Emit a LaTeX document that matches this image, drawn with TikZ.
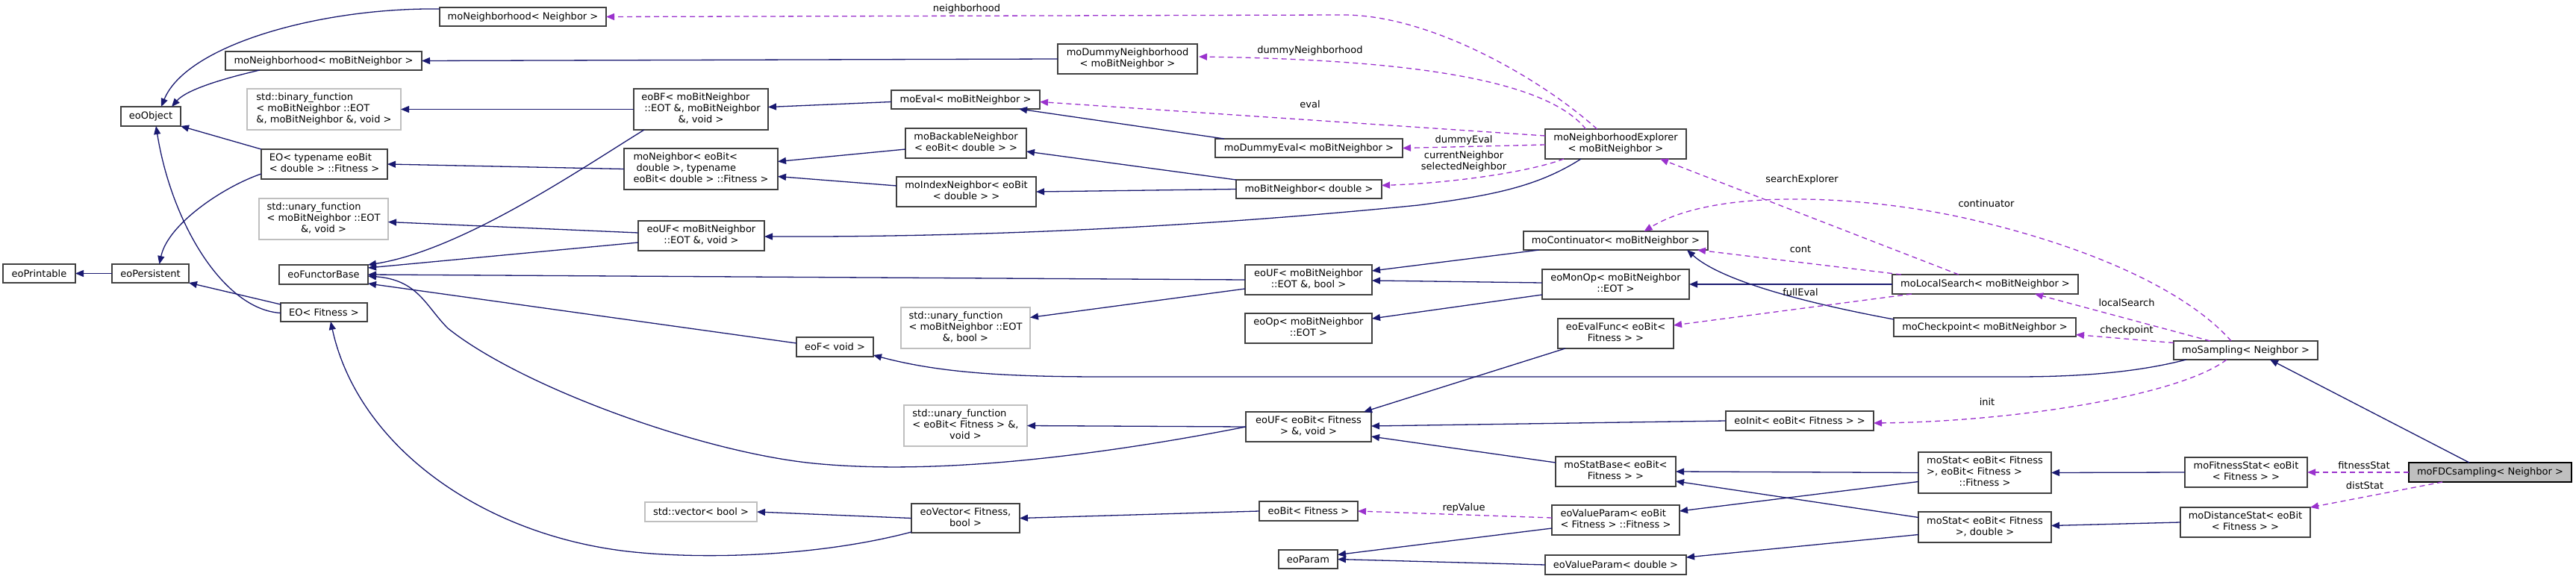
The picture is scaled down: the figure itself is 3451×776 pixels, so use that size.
\documentclass[tikz,border=0pt]{standalone}
\usepackage{fontspec}
\setmainfont{DejaVu Sans}
\usetikzlibrary{arrows.meta,calc}
\definecolor{eblue}{HTML}{191970}
\definecolor{epurp}{HTML}{9A32CD}
\definecolor{bord}{HTML}{404040}
\definecolor{gbord}{HTML}{BFBFBF}
\definecolor{gfill}{HTML}{BFBFBF}
\newcommand{\mlB}[2]{\begin{tabular}{@{}l@{}}#1\\\multicolumn{1}{@{}c@{}}{#2}\end{tabular}}
\newcommand{\mlC}[3]{\begin{tabular}{@{}l@{}}#1\\#2\\\multicolumn{1}{@{}c@{}}{#3}\end{tabular}}
\newcommand{\cbox}[7][]{\node[cls,#1,minimum width={#5-#3},minimum height={#6-#4}] (#2) at ({(#3+#5)/2},{(#4+#6)/2}) {#7};}
\tikzset{
 cls/.style={draw=bord, fill=white, line width=1.2pt, inner sep=0pt, outer sep=0pt, font=\fontsize{13}{15}\selectfont, align=center},
 ext/.style={draw=gbord},
 cur/.style={fill=gfill, draw=black},
 inh/.style={draw=eblue, line width=1.3pt, -{Triangle[length=11pt,width=9pt]}},
 use/.style={draw=epurp, line width=1.3pt, dash pattern=on 7pt off 5pt, -{Triangle[length=11pt,width=9pt]}},
 lbl/.style={font=\fontsize{13}{15}\selectfont, inner sep=0pt, align=center},
}
\begin{document}
\begin{tikzpicture}[x=1pt,y=-1pt]
\useasboundingbox (0,0) rectangle (3451,776);
\fill[white] (0,0) rectangle (3451,776);
% nodes
\cbox{N1}{4}{354}{101}{379}{eoPrintable}
\cbox{N2}{150}{354}{253}{379}{eoPersistent}
\cbox{N3}{162}{143}{242}{169}{eoObject}
\cbox{N4}{589}{10}{812}{35}{moNeighborhood< Neighbor >}
\cbox{N5}{302}{69}{565}{94}{moNeighborhood< moBitNeighbor >}
\cbox[ext]{N6}{331}{119}{537}{174}{\mlC{std::binary\_function}{< moBitNeighbor ::EOT}{\&, moBitNeighbor \&, void >}}
\cbox{N7}{350}{200}{519}{240}{\mlB{EO< typename eoBit}{< double > ::Fitness >}}
\cbox[ext]{N8}{347}{266}{520}{321}{\mlC{std::unary\_function}{< moBitNeighbor ::EOT}{\&, void >}}
\cbox{N9}{374}{355}{493}{381}{eoFunctorBase}
\cbox{N10}{376}{406}{492}{431}{EO< Fitness >}
\cbox{N11}{849}{119}{1029}{174}{\mlC{eoBF< moBitNeighbor}{\hspace{4pt}::EOT \&, moBitNeighbor}{\&, void >}}
\cbox{N12}{836}{199}{1042}{254}{\mlC{moNeighbor< eoBit<}{\hspace{4pt}double >, typename}{eoBit< double > ::Fitness >}}
\cbox{N13}{855}{296}{1024}{336}{\mlB{eoUF< moBitNeighbor}{::EOT \&, void >}}
\cbox{N14}{1067}{452}{1170}{478}{eoF< void >}
\cbox[ext]{N15}{864}{673}{1014}{699}{std::vector< bool >}
\cbox{N16}{1417}{59}{1604}{99}{\mlB{moDummyNeighborhood}{< moBitNeighbor >}}
\cbox{N17}{1194}{121}{1393}{146}{moEval< moBitNeighbor >}
\cbox{N18}{1213}{172}{1375}{212}{\mlB{moBackableNeighbor}{< eoBit< double > >}}
\cbox{N19}{1201}{237}{1388}{277}{\mlB{moIndexNeighbor< eoBit}{< double > >}}
\cbox{N20}{1628}{186}{1879}{211}{moDummyEval< moBitNeighbor >}
\cbox{N21}{1656}{241}{1851}{266}{moBitNeighbor< double >}
\cbox{N22}{1668}{355}{1838}{395}{\mlB{eoUF< moBitNeighbor}{::EOT \&, bool >}}
\cbox[ext]{N23}{1207}{412}{1380}{467}{\mlC{std::unary\_function}{< moBitNeighbor ::EOT}{\&, bool >}}
\cbox{N24}{1668}{420}{1838}{460}{\mlB{eoOp< moBitNeighbor}{::EOT >}}
\cbox[ext]{N25}{1211}{543}{1376}{598}{\mlC{std::unary\_function}{< eoBit< Fitness > \&,}{void >}}
\cbox{N26}{1669}{552}{1837}{592}{\mlB{eoUF< eoBit< Fitness}{> \&, void >}}
\cbox{N27}{1221}{675}{1366}{714}{\mlB{eoVector< Fitness,}{bool >}}
\cbox{N28}{1687}{672}{1819}{698}{eoBit< Fitness >}
\cbox{N29}{1713}{737}{1792}{762}{eoParam}
\cbox{N30}{2070}{173}{2259}{213}{\mlB{moNeighborhoodExplorer}{< moBitNeighbor >}}
\cbox{N31}{2041}{310}{2288}{335}{moContinuator< moBitNeighbor >}
\cbox{N32}{2066}{361}{2263}{401}{\mlB{eoMonOp< moBitNeighbor}{::EOT >}}
\cbox{N33}{2535}{368}{2784}{394}{moLocalSearch< moBitNeighbor >}
\cbox{N34}{2087}{427}{2242}{467}{\mlB{eoEvalFunc< eoBit<}{Fitness > >}}
\cbox{N35}{2537}{426}{2781}{451}{moCheckpoint< moBitNeighbor >}
\cbox{N36}{2312}{551}{2510}{577}{eoInit< eoBit< Fitness > >}
\cbox{N37}{2084}{612}{2245}{652}{\mlB{moStatBase< eoBit<}{Fitness > >}}
\cbox{N38}{2570}{606}{2748}{661}{\mlC{moStat< eoBit< Fitness}{>, eoBit< Fitness >}{::Fitness >}}
\cbox{N39}{2079}{677}{2250}{717}{\mlB{eoValueParam< eoBit}{< Fitness > ::Fitness >}}
\cbox{N40}{2570}{686}{2748}{727}{\mlB{moStat< eoBit< Fitness}{>, double >}}
\cbox{N41}{2070}{744}{2259}{770}{eoValueParam< double >}
\cbox{N42}{2912}{457}{3105}{482}{moSampling< Neighbor >}
\cbox{N43}{2927}{613}{3091}{653}{\mlB{moFitnessStat< eoBit}{< Fitness > >}}
\cbox[cur]{N44}{3227}{620}{3445}{646}{moFDCsampling< Neighbor >}
\cbox{N45}{2921}{680}{3095}{720}{\mlB{moDistanceStat< eoBit}{< Fitness > >}}
% inheritance edges
\draw[inh] (N2.west) -- (N1.east);
\draw[inh] ($(N7.west)+(0,13)$) .. controls (300,250) and (225,300) .. ($(N2.north)+(12,0)$);
\draw[inh] ($(N4.north west)+(0,2)$) .. controls (430,10) and (250,60) .. ($(N3.north)+(14,0)$);
\draw[inh] ($(N5.south west)+(46,0)$) .. controls (300,105) and (250,120) .. ($(N3.north)+(28,0)$);
\draw[inh] (N7.north west) -- (N3.south east);
\draw[inh] ($(N10.west)+(0,1)$) .. controls (300,415) and (230,300) .. ($(N3.south)+(7,0)$);
\draw[inh] ($(N10.north west)+(0,2)$) -- (N2.south east);
\draw[inh] ($(N27.south west)+(0,-1)$) .. controls (1100,745) and (950,750) .. (850,740) .. controls (650,720) and (480,600) .. ($(N10.south)+(9,0)$);
\draw[inh] (N27.west) -- (N15.east);
\draw[inh] (N28.west) -- (N27.east);
\draw[inh] (N11.west) -- (N6.east);
\draw[inh] ($(N11.south west)+(14,0)$) .. controls (780,225) and (620,335) .. (N9.north east);
\draw[inh] (N12.west) -- (N7.east);
\draw[inh] ($(N13.west)+(0,-4)$) -- ($(N8.east)+(0,4)$);
\draw[inh] ($(N13.west)+(0,9)$) -- ($(N9.east)+(0,-9)$);
\draw[inh] (N22.west) -- (N9.east);
\draw[inh] ($(N14.west)+(0,-5)$) -- ($(N9.south east)+(0,-1)$);
\draw[inh] (N26.west) .. controls (1450,615) and (1250,635) .. (1101,622) .. controls (950,610) and (700,520) .. (600,440) .. controls (570,410) and (560,375) .. ($(N9.east)+(0,2)$);
\draw[inh] ($(N30.south west)+(48,0)$) .. controls (2060,250) and (2000,262) .. (1900,275) .. controls (1600,305) and (1300,318) .. ($(N13.east)+(0,1)$);
\draw[inh] ($(N17.west)+(0,3)$) -- ($(N11.east)+(0,-3)$);
\draw[inh] (N16.west) -- (N5.east);
\draw[inh] ($(N18.west)+(0,8)$) -- ($(N12.east)+(0,-10)$);
\draw[inh] ($(N19.west)+(0,-8)$) -- ($(N12.east)+(0,10)$);
\draw[inh] ($(N20.north west)+(12,0)$) -- ($(N17.south east)+(-28,0)$);
\draw[inh] (N21.north west) -- ($(N18.east)+(0,11)$);
\draw[inh] (N21.west) -- (N19.east);
\draw[inh] ($(N22.west)+(0,12)$) -- ($(N23.east)+(0,-14)$);
\draw[inh] ($(N31.south west)+(21,0)$) -- ($(N22.east)+(0,-12)$);
\draw[inh] ($(N32.west)+(0,-2)$) -- ($(N22.east)+(0,1)$);
\draw[inh] ($(N32.west)+(0,14)$) -- ($(N24.east)+(0,-13)$);
\draw[inh] (N33.west) -- (N32.east);
\draw[inh] ($(N35.north west)+(0,2)$) .. controls (2440,410) and (2310,380) .. ($(N31.south east)+(-28,0)$);
\draw[inh] ($(N42.south west)+(17,0)$) .. controls (2870,497) and (2800,505) .. (2700,505) -- (1480,505) .. controls (1350,505) and (1260,500) .. ($(N14.south east)+(0,-2)$);
\draw[inh] ($(N34.south west)+(10,0)$) -- ($(N26.north east)+(-10,0)$);
\draw[inh] (N36.west) -- ($(N26.east)+(0,-1)$);
\draw[inh] ($(N37.west)+(0,-12)$) -- ($(N26.east)+(0,13)$);
\draw[inh] (N26.west) -- (N25.east);
\draw[inh] (N38.west) -- (N37.east);
\draw[inh] ($(N40.west)+(0,-13)$) -- ($(N37.east)+(0,13)$);
\draw[inh] ($(N38.west)+(0,12)$) -- ($(N39.east)+(0,-12)$);
\draw[inh] ($(N40.west)+(0,10)$) -- ($(N41.east)+(0,-10)$);
\draw[inh] ($(N39.west)+(0,11)$) -- ($(N29.east)+(0,-6)$);
\draw[inh] (N41.west) -- (N29.east);
\draw[inh] (N43.west) -- (N38.east);
\draw[inh] (N45.west) -- ($(N40.east)+(0,-2)$);
\draw[inh] ($(N44.north west)+(81,0)$) -- ($(N42.south east)+(-64,0)$);
% usage edges
\draw[use] ($(N39.west)+(0,-3)$) -- (N28.east);
\draw[use] (N44.west) -- (N43.east);
\draw[use] ($(N44.south west)+(45,0)$) -- (N45.north east);
\draw[use] ($(N42.north west)+(49,0)$) -- ($(N33.south east)+(-58,0)$);
\draw[use] ($(N42.west)+(0,-10)$) -- ($(N35.east)+(0,10)$);
\draw[use] ($(N42.north west)+(77,0)$) .. controls (2930,390) and (2800,330) .. (2631,292) .. controls (2500,263) and (2300,250) .. ($(N31.north)+(38,0)$);
\draw[use] ($(N42.south west)+(71,0)$) .. controls (2920,530) and (2700,565) .. ($(N36.east)+(0,3)$);
\draw[use] ($(N33.north west)+(89,0)$) -- ($(N30.south east)+(-35,0)$);
\draw[use] ($(N33.north west)+(12,0)$) -- ($(N31.south east)+(-14,0)$);
\draw[use] ($(N33.south west)+(26,0)$) -- ($(N34.east)+(0,-11)$);
\draw[use] ($(N30.north)+(-25,0)$) .. controls (2070,110) and (1920,20) .. (1800,20) -- (N4.east);
\draw[use] ($(N30.north)+(-40,0)$) .. controls (2070,105) and (1880,80) .. ($(N16.east)+(2,-3)$);
\draw[use] ($(N30.west)+(0,-11)$) -- ($(N17.east)+(0,3)$);
\draw[use] ($(N30.west)+(0,1)$) -- (N20.east);
\draw[use] ($(N30.south west)+(25,0)$) .. controls (2050,230) and (1950,245) .. ($(N21.east)+(0,-5)$);
% labels
\node[lbl] (L1) at (1295,12) {neighborhood};
\node[lbl] (L2) at (1755,68) {dummyNeighborhood};
\node[lbl] (L3) at (1755,140) {eval};
\node[lbl] (L4) at (1961,188) {dummyEval};
\node[lbl] (L5) at (1961,216) {currentNeighbor\\selectedNeighbor};
\node[lbl] (L6) at (2414,241) {searchExplorer};
\node[lbl] (L7) at (2661,273) {continuator};
\node[lbl] (L8) at (2412,334) {cont};
\node[lbl] (L9) at (2412,392) {fullEval};
\node[lbl] (L10) at (2849,406) {localSearch};
\node[lbl] (L11) at (2849,443) {checkpoint};
\node[lbl] (L12) at (2662,539) {init};
\node[lbl] (L13) at (1961,681) {repValue};
\node[lbl] (L14) at (3167,624) {fitnessStat};
\node[lbl] (L15) at (3168,651) {distStat};
\end{tikzpicture}
\end{document}
